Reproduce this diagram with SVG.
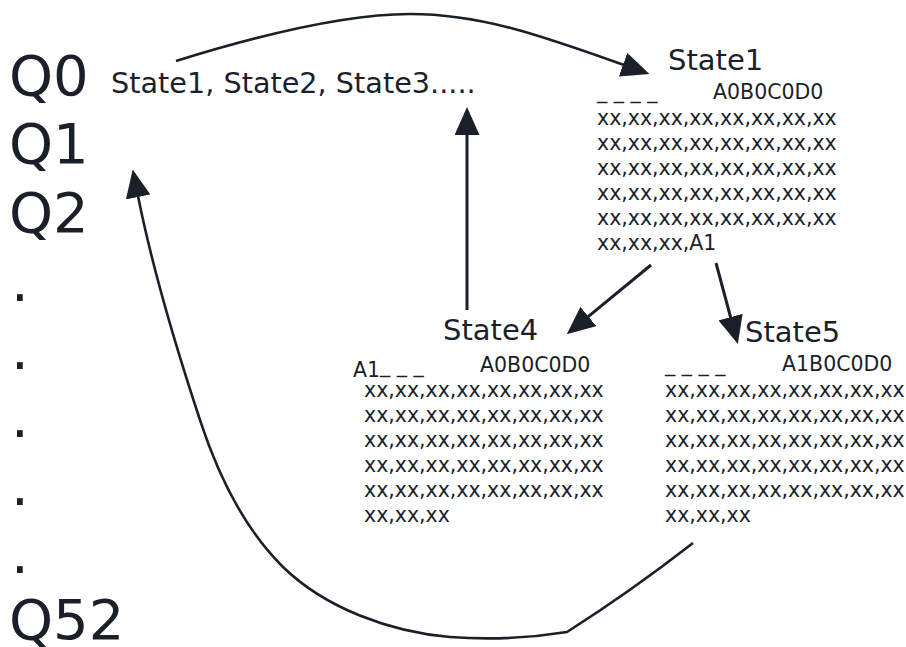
<svg xmlns="http://www.w3.org/2000/svg" width="906" height="647" viewBox="0 0 906 647">
<style>
text{font-family:"DejaVu Sans","Liberation Sans",sans-serif;fill:#1b1f2a}
.q{font-size:56px}
.st{font-size:28.7px}
.lbl{font-size:29px}
.sm{font-size:20.5px}
.ln{fill:none;stroke:#1b1f2a;stroke-width:3}
.cv{fill:none;stroke:#1b1f2a;stroke-width:2.6}
</style>
<defs>
<marker id="ah" markerUnits="userSpaceOnUse" viewBox="0 0 28 25" refX="1" refY="12.5" markerWidth="28" markerHeight="25" orient="auto">
<path d="M0,0 L28,12.5 L0,25 z" fill="#1b1f2a"/>
</marker>
</defs>
<rect width="906" height="647" fill="#ffffff"/>
<g id="queue">
<text class="q" x="9" y="95">Q0</text>
<text class="q" x="9" y="163">Q1</text>
<text class="q" x="9" y="232">Q2</text>
<text class="q" x="11" y="301">.</text>
<text class="q" x="11" y="369">.</text>
<text class="q" x="11" y="437">.</text>
<text class="q" x="11" y="505">.</text>
<text class="q" x="11" y="573">.</text>
<text class="q" x="9" y="639">Q52</text>
</g>
<g id="states-list">
<text class="st" x="111" y="93">State1, State2, State3.....</text>
</g>
<g id="state1">
<text class="lbl" x="668" y="70">State1</text>
<text class="sm" x="597" y="98">_ _ _ _</text>
<text class="sm" x="713" y="99">A0B0C0D0</text>
<text class="sm" x="597" y="125">xx,xx,xx,xx,xx,xx,xx,xx</text>
<text class="sm" x="597" y="150">xx,xx,xx,xx,xx,xx,xx,xx</text>
<text class="sm" x="597" y="175">xx,xx,xx,xx,xx,xx,xx,xx</text>
<text class="sm" x="597" y="200">xx,xx,xx,xx,xx,xx,xx,xx</text>
<text class="sm" x="597" y="225">xx,xx,xx,xx,xx,xx,xx,xx</text>
<text class="sm" x="597" y="250">xx,xx,xx,A1</text>
</g>
<g id="state4">
<text class="lbl" x="443" y="340">State4</text>
<text class="sm" x="353" y="377">A1</text>
<text class="sm" x="380" y="372">_ _ _</text>
<text class="sm" x="480" y="372">A0B0C0D0</text>
<text class="sm" x="364" y="397">xx,xx,xx,xx,xx,xx,xx,xx</text>
<text class="sm" x="364" y="422">xx,xx,xx,xx,xx,xx,xx,xx</text>
<text class="sm" x="364" y="447">xx,xx,xx,xx,xx,xx,xx,xx</text>
<text class="sm" x="364" y="472">xx,xx,xx,xx,xx,xx,xx,xx</text>
<text class="sm" x="364" y="497">xx,xx,xx,xx,xx,xx,xx,xx</text>
<text class="sm" x="364" y="522">xx,xx,xx</text>
</g>
<g id="state5">
<text class="lbl" x="745" y="342">State5</text>
<text class="sm" x="665" y="371">_ _ _ _</text>
<text class="sm" x="782" y="371">A1B0C0D0</text>
<text class="sm" x="665" y="397">xx,xx,xx,xx,xx,xx,xx,xx</text>
<text class="sm" x="665" y="422">xx,xx,xx,xx,xx,xx,xx,xx</text>
<text class="sm" x="665" y="447">xx,xx,xx,xx,xx,xx,xx,xx</text>
<text class="sm" x="665" y="472">xx,xx,xx,xx,xx,xx,xx,xx</text>
<text class="sm" x="665" y="497">xx,xx,xx,xx,xx,xx,xx,xx</text>
<text class="sm" x="665" y="522">xx,xx,xx</text>
</g>
<g id="connectors">
<path class="cv" d="M176,61 C250,38 340,14 410,14 C480,14 540,35 624,65" marker-end="url(#ah)"/>
<path class="ln" d="M467,310 L467,134" marker-end="url(#ah)"/>
<path class="ln" d="M651,265 L587.6,317.2" marker-end="url(#ah)"/>
<path class="ln" d="M716,263 L730.8,318" marker-end="url(#ah)"/>
<path class="cv" d="M693,543 Q630,592 567,632 C530,638 490,640 450,637 C390,632 325,608 283,567 C244,528.5 217,472 200,420 C178,353.5 153,271 138,196" marker-end="url(#ah)"/>
</g>
</svg>
